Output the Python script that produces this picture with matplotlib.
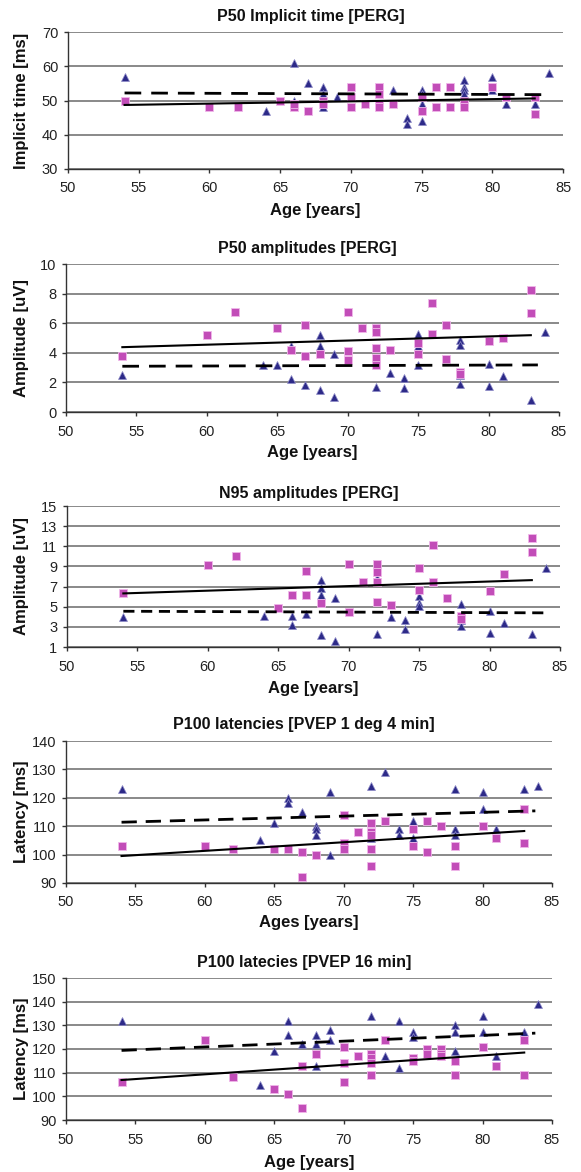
import matplotlib
matplotlib.use("Agg")
import matplotlib.pyplot as plt
import numpy as np

plt.rcParams['font.family'] = ['Liberation Sans', 'DejaVu Sans']

# ---------------- data ----------------
titles = ["P50 Implicit time [PERG]", "P50 amplitudes [PERG]", "N95 amplitudes [PERG]",
          "P100 latencies [PVEP 1 deg 4 min]", "P100 latecies [PVEP 16 min]"]
ylabels = ["Implicit time [ms]", "Amplitude [uV]", "Amplitude [uV]", "Latency [ms]", "Latency [ms]"]
xlabels = ["Age [years]", "Age [years]", "Age [years]", "Ages [years]", "Age [years]"]
yticks = [[30, 40, 50, 60, 70], [0, 2, 4, 6, 8, 10], [1, 3, 5, 7, 9, 11, 13, 15],
          [90, 100, 110, 120, 130, 140], [90, 100, 110, 120, 130, 140, 150]]
xticks = [50, 55, 60, 65, 70, 75, 80, 85]

# Panel 1: P50 implicit time
p1_tri_age = [54, 64, 66, 66, 67, 68, 68, 68, 69, 73, 74, 74, 75, 75, 75, 75, 78, 78, 78, 78, 80, 80, 81, 83, 84]
p1_tri_val = [57, 47, 61, 50, 55, 54, 52, 48, 51, 53, 45, 43, 53, 52, 49, 44, 56, 54, 53, 52, 57, 53, 49, 49, 58]
p1_sq_age = [54, 60, 62, 65, 66, 66, 67, 68, 68, 70, 70, 70, 71, 72, 72, 72, 72, 73, 75, 75,
             76, 76, 77, 77, 78, 78, 78, 80, 81, 83, 83]
p1_sq_val = [50, 48, 48, 50, 48, 49, 47, 50, 49, 54, 51, 48, 49, 54, 52, 49, 48, 49, 51, 47,
             54, 48, 54, 48, 50, 49, 48, 54, 51, 51, 46]
p1_solid = ([54, 83], [48.7, 50.6])
p1_dash = ([54, 84], [52.2, 51.7])

# Panel 2: P50 amplitudes
p2_tri_age = [54, 64, 65, 66, 66, 67, 68, 68, 68, 69, 69, 72, 73, 74, 74, 75, 75, 75,
              78, 78, 78, 78, 80, 80, 81, 83, 84]
p2_tri_val = [2.5, 3.2, 3.2, 2.25, 4.45, 1.85, 5.2, 4.45, 1.47, 3.9, 1.0, 1.67, 2.65, 2.3, 1.63, 5.24, 4.45, 3.2,
              4.85, 4.5, 2.48, 1.87, 3.23, 1.76, 2.4, 0.8, 5.4]
p2_sq_age = [54, 60, 62, 65, 66, 67, 67, 68, 70, 70, 70, 71, 72, 72, 72, 72, 72, 73, 75, 75,
             76, 76, 77, 77, 78, 78, 80, 81, 83, 83]
p2_sq_val = [3.77, 5.2, 6.75, 5.7, 4.2, 5.85, 3.8, 3.95, 6.77, 4.1, 3.5, 5.67, 5.7, 5.4, 4.35, 3.68, 3.15, 4.17, 4.67, 3.95,
             7.38, 5.24, 5.9, 3.57, 2.7, 2.55, 4.8, 5.03, 8.24, 6.7]
p2_solid = ([54, 83], [4.38, 5.19])
p2_dash = ([54, 83.5], [3.09, 3.18])

# Panel 3: N95 amplitudes
p3_tri_age = [54, 64, 66, 66, 67, 68, 68, 68, 68, 69, 69, 72, 72, 73, 74, 74, 75, 75, 75,
              78, 78, 78, 80, 80, 81, 83, 84]
p3_tri_val = [3.96, 4.1, 4.03, 3.23, 4.3, 7.62, 6.88, 6.16, 2.22, 5.88, 1.57, 7.9, 2.3, 3.93, 3.65, 2.8, 6.04, 5.4, 5.05,
              5.22, 3.66, 3.06, 4.6, 2.4, 3.35, 2.26, 8.8]
p3_sq_age = [54, 60, 62, 65, 66, 67, 67, 68, 70, 70, 71, 72, 72, 72, 72, 73, 75, 75,
             76, 76, 77, 78, 78, 80, 81, 83, 83]
p3_sq_val = [6.38, 9.1, 10.0, 4.92, 6.12, 8.58, 6.12, 5.39, 9.25, 4.5, 7.46, 9.25, 8.47, 7.46, 5.46, 5.2, 8.88, 6.62,
             11.1, 7.44, 5.83, 4.1, 3.78, 6.52, 8.2, 11.83, 10.43]
p3_solid = ([54, 83], [6.32, 7.64])
p3_dash = ([54, 84], [4.55, 4.39])

# Panel 4: P100 latencies 1 deg 4 min
p4_tri_age = [54, 64, 65, 66, 66, 67, 68, 68, 68, 69, 69, 72, 72, 73, 74, 74, 75, 75,
              78, 78, 78, 80, 80, 81, 83, 84]
p4_tri_val = [123, 105, 111, 120, 118, 115, 110.2, 109, 107, 122, 100, 124, 106, 129, 109, 107, 112, 106,
              123, 109, 107, 122, 116, 109, 123, 124]
p4_sq_age = [54, 60, 62, 65, 66, 67, 67, 68, 70, 70, 70, 71, 72, 72, 72, 72, 72, 73, 75, 75,
             76, 76, 77, 78, 78, 80, 81, 83, 83]
p4_sq_val = [103, 103, 102, 102, 102, 101, 92, 100, 114, 104, 102, 108, 111, 108, 107, 102, 96, 112, 109, 103,
             112, 101, 110, 103, 96, 110, 106, 116, 104]
p4_solid = ([54, 83], [99.5, 108.3])
p4_dash = ([54, 83.8], [111.4, 115.4])

# Panel 5: P100 latencies 16 min
p5_tri_age = [54, 64, 65, 66, 66, 67, 68, 68, 68, 69, 69, 72, 73, 74, 74, 75, 75,
              78, 78, 78, 80, 80, 81, 83, 84]
p5_tri_val = [132, 105, 119, 132, 126, 122, 126, 122, 113, 128, 124, 134, 117, 132, 112, 127, 125,
              130, 127, 119, 134, 127, 117, 127, 139]
p5_sq_age = [54, 60, 62, 65, 66, 67, 67, 68, 70, 70, 70, 71, 72, 72, 72, 72, 73, 75, 75,
             76, 76, 77, 77, 77, 78, 78, 80, 81, 83, 83]
p5_sq_val = [106, 124, 108, 103, 101, 113, 95, 118, 121, 114, 106, 117, 118, 116, 114, 109, 124, 116, 115,
             120, 118, 120, 118, 117, 115, 109, 121, 113, 124, 109]
p5_solid = ([54, 83], [106.9, 118.5])
p5_dash = ([54, 83.8], [119.4, 126.7])

panels = [
    (p1_tri_age, p1_tri_val, p1_sq_age, p1_sq_val, p1_solid, p1_dash),
    (p2_tri_age, p2_tri_val, p2_sq_age, p2_sq_val, p2_solid, p2_dash),
    (p3_tri_age, p3_tri_val, p3_sq_age, p3_sq_val, p3_solid, p3_dash),
    (p4_tri_age, p4_tri_val, p4_sq_age, p4_sq_val, p4_solid, p4_dash),
    (p5_tri_age, p5_tri_val, p5_sq_age, p5_sq_val, p5_solid, p5_dash),
]

# ---------------- layout (pixels) ----------------
W, H = 581, 1172
# left, right, top, bottom, title_y, xlabel_y
boxes = [
    (68, 563, 32, 169, 17, 210),
    (66, 559, 264, 412, 249, 453),
    (67, 560, 506, 647, 493, 688),
    (66, 552, 741, 883, 725, 923),
    (66, 552, 978, 1120, 962, 1163),
]
dash_styles = [(6, 3.6), (6, 3.6), (4, 2.4), (5.5, 3.2), (5.5, 3.2)]

fig = plt.figure(figsize=(W / 100, H / 100), dpi=100)
fig.patch.set_facecolor('white')

tri_color = '#2D2A88'
sq_color = '#C24DB8'

for i, (ta, tv, sa, sv, solid, dash) in enumerate(panels):
    l, r, t, b, ty, xly = boxes[i]
    ax = fig.add_axes([l / W, 1 - b / H, (r - l) / W, (b - t) / H])
    ax.set_xlim(50, 85)
    ax.set_ylim(yticks[i][0], yticks[i][-1])
    ax.set_xticks(xticks)
    ax.set_yticks(yticks[i])
    ax.grid(axis='y', color='#6a6a6a', linewidth=1.1, zorder=0)
    ax.grid(axis='x', visible=False)
    for s in ['top', 'right']:
        ax.spines[s].set_visible(False)
    for s in ['left', 'bottom']:
        ax.spines[s].set_color('#333333')
        ax.spines[s].set_linewidth(1.0)
    ax.tick_params(axis='both', direction='out', length=3, width=1, color='#333333',
                   labelsize=10.5, labelcolor='#222222')
    ax.tick_params(axis='x', pad=6)
    ax.tick_params(axis='y', pad=4)

    ax.plot(ta, tv, linestyle='none', marker='^', markersize=6.3, color=tri_color,
            markeredgecolor='#8f8cc8', markeredgewidth=0.5, zorder=3, clip_on=False)
    ax.plot(sa, sv, linestyle='none', marker='s', markersize=5.6, color=sq_color,
            markeredgecolor='#f0b8ea', markeredgewidth=0.6, zorder=4, clip_on=False)
    ax.plot(solid[0], solid[1], color='black', linewidth=1.5, zorder=5)
    ax.plot(dash[0], dash[1], color='black', linewidth=2.0, dashes=dash_styles[i], zorder=5)

    ax.text(0.49, 1 + (t - ty) / (b - t), titles[i], transform=ax.transAxes,
            ha='center', va='center', fontsize=11.5, fontweight='bold', color='#111111')
    ax.set_xlabel(xlabels[i], fontsize=12, fontweight='bold', color='#111111')
    ax.xaxis.set_label_coords(0.5, -(xly - b) / (b - t))
    ax.xaxis.label.set_va('center')
    ax.set_ylabel(ylabels[i], fontsize=12, fontweight='bold', color='#111111')
    ax.yaxis.set_label_coords(-(l - 22) / (r - l), 0.5)
    ax.yaxis.label.set_va('center')

fig.savefig('out.png', dpi=100, facecolor='white')
